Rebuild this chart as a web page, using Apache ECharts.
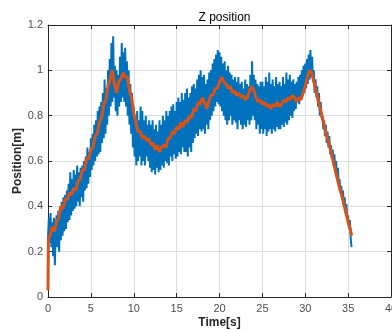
<!DOCTYPE html>
<html>
<head>
<meta charset="utf-8">
<script src="https://cdn.jsdelivr.net/npm/echarts@6/dist/echarts.min.js"></script>
<style>
html,body{margin:0;padding:0;background:#fff;}
#chart{width:392px;height:330px;}
</style>
</head>
<body>
<div id="chart"></div>
<script>
const titleText = 'Z position';
const xName = 'Time[s]';
const yName = 'Position[m]';
const blueStep = 0.1;
const blueValues = [
0.26,0.35,0.24,0.37,0.22,0.33,0.18,0.35,0.14,0.30,
0.36,0.22,0.38,0.20,0.40,0.25,0.42,0.27,0.44,0.29,
0.45,0.30,0.47,0.33,0.50,0.34,0.55,0.36,0.52,0.38,
0.56,0.39,0.54,0.40,0.58,0.42,0.55,0.40,0.57,0.44,
0.58,0.42,0.60,0.47,0.62,0.48,0.66,0.50,0.64,0.53,
0.70,0.56,0.72,0.58,0.76,0.60,0.78,0.62,0.82,0.63,
0.84,0.64,0.86,0.68,0.90,0.70,0.96,0.72,0.92,0.76,
1.00,0.80,1.05,0.84,1.12,0.86,1.15,0.88,1.02,0.82,
1.00,0.80,0.98,0.84,1.06,0.86,1.12,0.88,1.08,0.86,
1.10,0.84,1.04,0.80,1.00,0.76,0.94,0.72,0.90,0.66,
0.84,0.62,0.80,0.58,0.82,0.60,0.78,0.62,0.84,0.58,
0.82,0.60,0.78,0.58,0.80,0.62,0.76,0.60,0.78,0.57,
0.76,0.55,0.78,0.56,0.74,0.54,0.76,0.57,0.73,0.55,
0.78,0.56,0.76,0.58,0.80,0.57,0.78,0.60,0.82,0.59,
0.80,0.58,0.82,0.62,0.84,0.60,0.85,0.63,0.82,0.61,
0.86,0.62,0.88,0.64,0.86,0.63,0.90,0.66,0.87,0.64,
0.90,0.64,0.92,0.62,0.88,0.66,0.90,0.64,0.93,0.68,
0.94,0.70,0.92,0.72,0.96,0.71,0.98,0.74,1.00,0.73,
0.97,0.74,0.98,0.72,0.94,0.76,0.96,0.74,0.99,0.78,
1.00,0.80,1.03,0.82,1.05,0.84,1.07,0.86,1.09,0.85,
1.08,0.84,1.06,0.82,1.03,0.80,1.04,0.78,1.00,0.76,
1.02,0.78,0.99,0.80,0.98,0.76,0.96,0.78,0.97,0.77,
0.95,0.74,0.97,0.78,0.94,0.76,0.95,0.74,0.92,0.76,
0.96,0.75,0.94,0.78,0.93,0.76,0.98,0.78,1.04,0.80,
0.98,0.78,0.96,0.74,0.94,0.76,0.93,0.72,0.95,0.74,
0.95,0.72,0.93,0.74,0.97,0.71,0.95,0.73,0.99,0.74,
0.94,0.72,0.96,0.74,0.93,0.73,0.97,0.75,0.94,0.74,
0.95,0.74,0.93,0.76,0.97,0.75,0.94,0.77,0.99,0.76,
0.96,0.78,0.98,0.80,0.95,0.79,0.96,0.82,0.94,0.83,
0.95,0.86,0.97,0.85,0.98,0.88,1.00,0.89,1.02,0.90,
1.03,0.92,1.05,0.94,1.07,0.96,1.09,0.97,1.06,0.95,
1.00,0.90,0.96,0.88,0.93,0.84,0.90,0.80,0.86,0.79,
0.80,0.74,0.78,0.71,0.76,0.68,0.73,0.66,0.71,0.63,
0.67,0.61,0.65,0.58,0.63,0.55,0.60,0.52,0.57,0.50,
0.52,0.46,0.49,0.43,0.47,0.40,0.44,0.37,0.41,0.34,
0.36,0.30,0.34,0.26,0.22
];
const orangeLeadTime = [0, 0.05];
const orangeLeadValue = [0.03, 0.26];
const orangeStep = 0.25;
const orangeValues = [
0.27,0.31,0.29,0.33,0.35,0.40,0.39,0.43,
0.43,0.46,0.45,0.48,0.47,0.51,0.52,0.56,
0.56,0.61,0.61,0.65,0.66,0.71,0.72,0.77,
0.79,0.85,0.87,0.93,0.96,1.00,0.94,0.90,
0.95,0.96,0.99,0.97,0.97,0.91,0.88,0.81,
0.77,0.73,0.73,0.70,0.71,0.69,0.70,0.67,
0.68,0.65,0.67,0.64,0.66,0.67,0.66,0.70,
0.70,0.73,0.72,0.75,0.74,0.77,0.75,0.78,
0.77,0.80,0.79,0.83,0.82,0.86,0.85,0.88,
0.86,0.83,0.86,0.89,0.89,0.92,0.92,0.95,
0.97,0.95,0.94,0.92,0.93,0.90,0.91,0.89,
0.90,0.88,0.89,0.87,0.88,0.91,0.93,0.91,
0.88,0.86,0.87,0.85,0.86,0.84,0.85,0.83,
0.85,0.84,0.86,0.84,0.85,0.87,0.86,0.88,
0.87,0.89,0.88,0.86,0.88,0.87,0.90,0.93,
0.97,1.00,0.99,0.95,0.91,0.87,0.83,0.79,
0.75,0.71,0.68,0.64,0.60,0.56,0.52,0.48,
0.45,0.41,0.37,0.33,0.30
];
const orangeEndTime = 35.4;
const orangeEndValue = 0.27;
const xTicks = {min:0,max:40,interval:5};
const yTicks = {min:0,max:1.2,interval:0.2};

const blueData = blueValues.map((v,i)=>[+(i*blueStep).toFixed(2), v]);
const orangeData = orangeLeadTime.map((t,i)=>[t, orangeLeadValue[i]])
  .concat(orangeValues.map((v,i)=>[+((i+1)*orangeStep).toFixed(2), v]))
  .concat([[orangeEndTime, orangeEndValue]]);

const font = 'Liberation Sans, Arial, sans-serif';
const axisCol = '#262626';
const chart = echarts.init(document.getElementById('chart'), null, {renderer:'canvas'});
const sideAxis = {
  show:true, axisLine:{show:true,onZero:false,lineStyle:{color:axisCol,width:1}},
  axisTick:{show:true,inside:true,length:4,lineStyle:{color:axisCol}},
  axisLabel:{show:false}, splitLine:{show:false}
};
chart.setOption({
  animation:false,
  backgroundColor:'#fff',
  title:{text:titleText,left:219.5,textAlign:'center',top:7,
    textStyle:{fontFamily:font,fontSize:12,fontWeight:'normal',color:'#000'}},
  grid:{left:48,right:1,top:25,bottom:33,containLabel:false,outerBoundsMode:'none'},
  xAxis:[{
    type:'value',min:xTicks.min,max:xTicks.max,interval:xTicks.interval,
    name:xName,nameLocation:'middle',nameGap:20,nameMoveOverlap:false,
    nameTextStyle:{fontFamily:font,fontSize:12,fontWeight:'bold',color:axisCol},
    axisLine:{onZero:false,lineStyle:{color:axisCol,width:1}},
    axisTick:{inside:true,length:4,lineStyle:{color:axisCol}},
    axisLabel:{fontFamily:font,fontSize:11,color:'#4d4d4d',margin:6},
    splitLine:{show:true,lineStyle:{color:'#dedede',width:1}}
  },Object.assign({type:'value',position:'top',min:xTicks.min,max:xTicks.max,interval:xTicks.interval},sideAxis)],
  yAxis:[{
    type:'value',min:yTicks.min,max:yTicks.max,interval:yTicks.interval,
    name:yName,nameLocation:'middle',nameGap:24,nameMoveOverlap:false,
    nameTextStyle:{fontFamily:font,fontSize:12,fontWeight:'bold',color:axisCol},
    axisLine:{show:true,onZero:false,lineStyle:{color:axisCol,width:1}},
    axisTick:{show:true,inside:true,length:4,lineStyle:{color:axisCol}},
    axisLabel:{fontFamily:font,fontSize:11,color:'#4d4d4d',margin:5},
    splitLine:{show:true,lineStyle:{color:'#dedede',width:1}}
  },Object.assign({type:'value',position:'right',min:yTicks.min,max:yTicks.max,interval:yTicks.interval},sideAxis)],
  series:[
    {type:'line',data:blueData,showSymbol:false,symbol:'none',
      lineStyle:{color:'#0072BD',width:2},itemStyle:{color:'#0072BD'},z:2},
    {type:'line',data:orangeData,showSymbol:false,symbol:'none',
      lineStyle:{color:'#D95319',width:3},itemStyle:{color:'#D95319'},z:3}
  ]
});
</script>
</body>
</html>
